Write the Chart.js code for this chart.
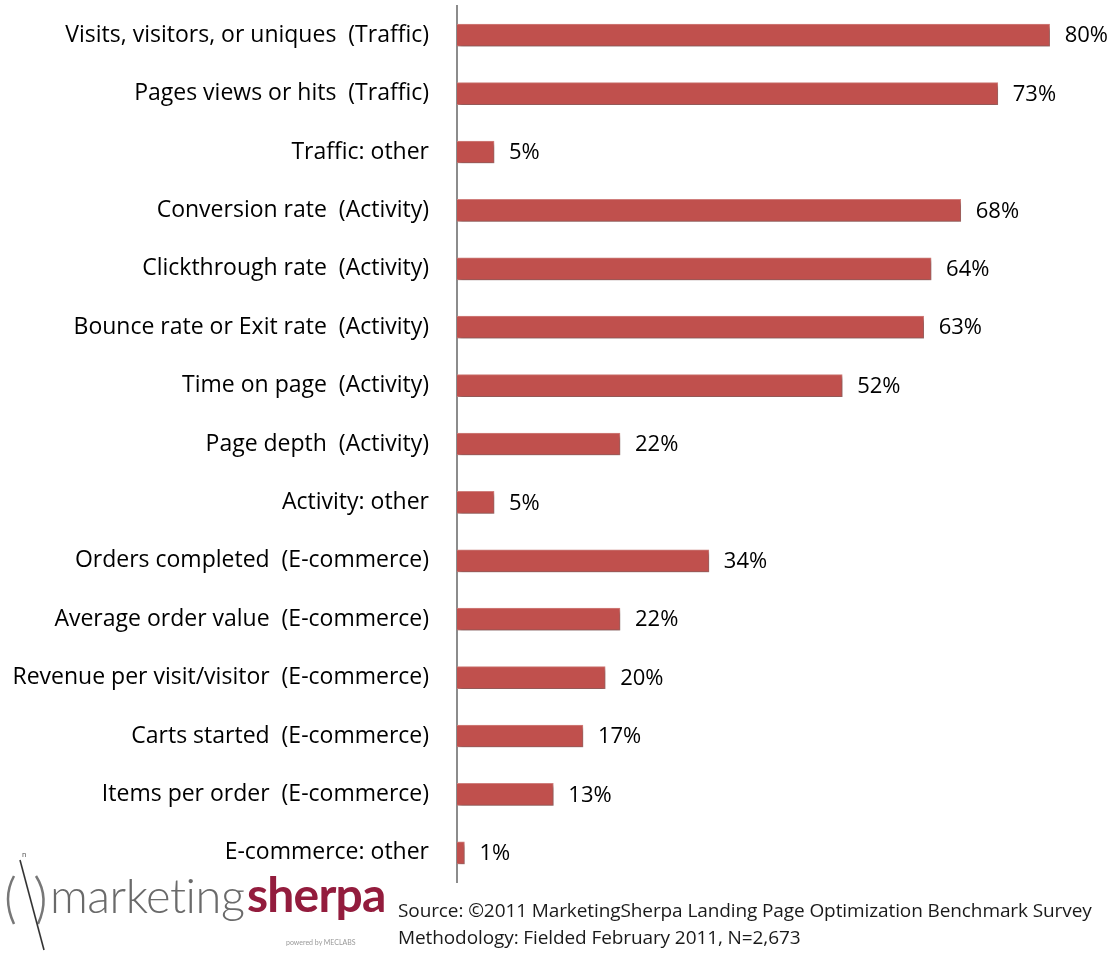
<!DOCTYPE html>
<html>
<head>
<meta charset="utf-8">
<script src="https://cdn.jsdelivr.net/npm/chart.js@4.4.1/dist/chart.umd.min.js"></script>
<style>
  html, body { margin: 0; padding: 0; background: #fff; }
  #wrap { position: relative; width: 1120px; height: 957px; overflow: hidden; }
  #chart { position: absolute; left: 0; top: 0; }
  #logo { position: absolute; left: 0; top: 859px; width: 392px; height: 98px; background: #fff; }
  #logo .mk { position: absolute; left: 50px; top: 8px; font-family: Lato, sans-serif; font-weight: 300; font-size: 47px; color: #6a6a6a; letter-spacing: -0.5px; }
  #logo .sh { position: absolute; left: 247px; top: 6px; font-family: Lato, sans-serif; font-weight: 700; font-size: 48px; color: #931c3d; letter-spacing: -0.8px; }
  #logo .pw { position: absolute; left: 286px; top: 79px; font-family: Lato, sans-serif; font-size: 7px; color: #999; }
  #logo svg { position: absolute; left: 0; top: -11px; }
  #source { position: absolute; left: 398px; top: 897px; font-family: "Open Sans", sans-serif; font-size: 19px; line-height: 27px; color: #1a1a1a; letter-spacing: -0.1px; }
</style>
</head>
<body>
<div id="wrap">
  <canvas id="chart" width="1120" height="957"></canvas>
  <div id="logo">
    <svg width="60" height="110" viewBox="0 0 60 110">
      <path d="M14 28 Q2 50 14 76" stroke="#777" stroke-width="2.5" fill="none"/>
      <path d="M36 28 Q50 50 38 76" stroke="#777" stroke-width="2.5" fill="none"/>
      <line x1="20" y1="12" x2="44" y2="102" stroke="#333" stroke-width="1.6"/>
      <text x="22" y="9" font-size="8" fill="#666" font-family="Lato">n</text>
    </svg>
    <span class="mk">marketing</span>
    <span class="sh">sherpa</span>
    <span class="pw">powered by MECLABS</span>
  </div>
  <div id="source">
    Source: ©2011 MarketingSherpa Landing Page Optimization Benchmark Survey<br>
    Methodology: Fielded February 2011, N=2,673
  </div>
</div>
<script>
const categories = [
  'Visits, visitors, or uniques  (Traffic)',
  'Pages views or hits  (Traffic)',
  'Traffic: other',
  'Conversion rate  (Activity)',
  'Clickthrough rate  (Activity)',
  'Bounce rate or Exit rate  (Activity)',
  'Time on page  (Activity)',
  'Page depth  (Activity)',
  'Activity: other',
  'Orders completed  (E-commerce)',
  'Average order value  (E-commerce)',
  'Revenue per visit/visitor  (E-commerce)',
  'Carts started  (E-commerce)',
  'Items per order  (E-commerce)',
  'E-commerce: other'
];
const percentages = [80, 73, 5, 68, 64, 63, 52, 22, 5, 34, 22, 20, 17, 13, 1];

const tickFont = { family: "'Open Sans', sans-serif", size: 23 };
const labelFont = { family: "'Open Sans', sans-serif", size: 22 };

const barShadow = {
  id: 'barShadow',
  beforeDatasetsDraw(chart) {
    const c = chart.ctx;
    c.save();
    c.shadowColor = 'rgba(0,0,0,0.35)';
    c.shadowBlur = 4;
    c.shadowOffsetX = 2;
    c.shadowOffsetY = 3;
  },
  afterDatasetsDraw(chart) {
    chart.ctx.restore();
  }
};

const valueLabels = {
  id: 'valueLabels',
  afterDatasetsDraw(chart) {
    const c = chart.ctx;
    const meta = chart.getDatasetMeta(0);
    c.save();
    c.font = labelFont.size + 'px ' + labelFont.family;
    c.fillStyle = '#000';
    c.textAlign = 'left';
    c.textBaseline = 'middle';
    meta.data.forEach((bar, i) => {
      c.fillText(percentages[i] + '%', bar.x + 15, bar.y + 1);
    });
    c.restore();
  }
};

const ctx = document.getElementById('chart').getContext('2d');
new Chart(ctx, {
  type: 'bar',
  data: {
    labels: categories,
    datasets: [{
      data: percentages,
      backgroundColor: '#c0504d',
      borderColor: '#d4827f',
      borderWidth: 1,
      borderSkipped: 'left',
      barThickness: 22
    }]
  },
  options: {
    indexAxis: 'y',
    responsive: false,
    devicePixelRatio: 1,
    animation: false,
    layout: { padding: { top: 6, bottom: 75, right: 0, left: 0 } },
    plugins: {
      legend: { display: false },
      tooltip: { enabled: false }
    },
    scales: {
      x: {
        display: false,
        min: 0,
        max: 89.5
      },
      y: {
        afterFit: (scale) => {
          scale.width = 457;
          scale.paddingTop = 0;
          scale.paddingBottom = 0;
        },
        grid: { display: false, drawTicks: false },
        border: { display: true, color: '#8c8c8c', width: 2 },
        ticks: {
          color: '#000',
          font: tickFont,
          padding: 28,
          autoSkip: false
        }
      }
    }
  },
  plugins: [barShadow, valueLabels]
});
</script>
</body>
</html>
